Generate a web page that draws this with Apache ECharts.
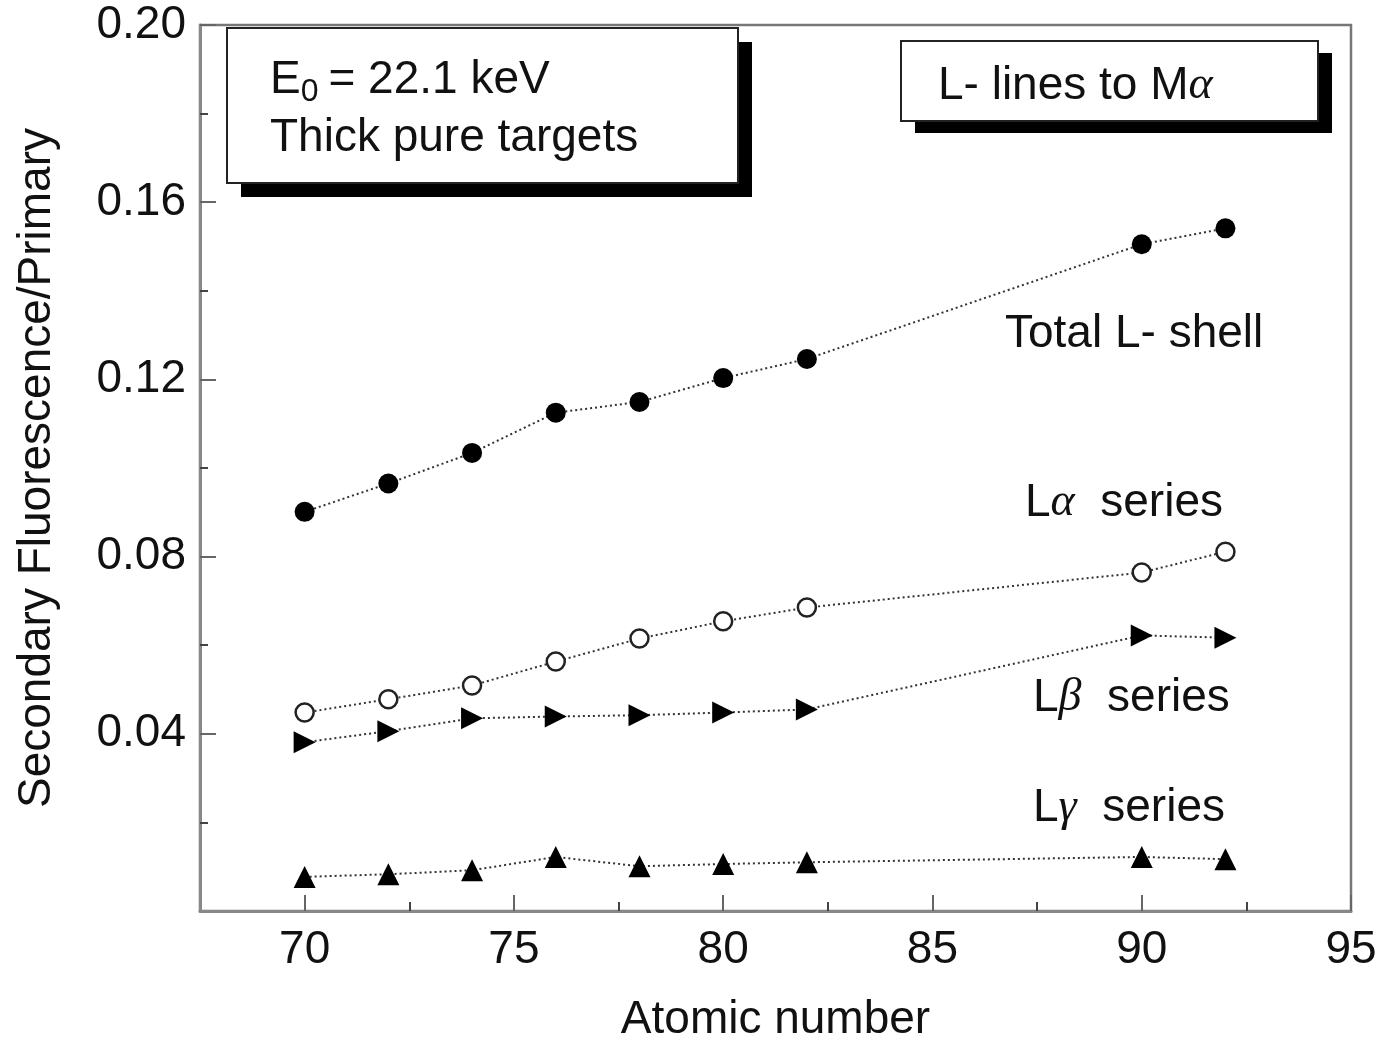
<!DOCTYPE html>
<html>
<head>
<meta charset="utf-8">
<script src="https://cdn.jsdelivr.net/npm/echarts@6/dist/echarts.min.js"></script>
<style>html,body{margin:0;padding:0;background:#fff;}#c{width:1385px;height:1039px;}</style>
</head>
<body>
<div id="c"></div>
<script>
var atomicNumber = [70, 72, 74, 76, 78, 80, 82, 90, 92];
var totalL = [0.0901, 0.0965, 0.1034, 0.1125, 0.1149, 0.1203, 0.1246, 0.1505, 0.1541];
var lAlpha = [0.0448, 0.0478, 0.0509, 0.0563, 0.0615, 0.0654, 0.0685, 0.0764, 0.0811];
var lBeta  = [0.0381, 0.0406, 0.0435, 0.0439, 0.0442, 0.0448, 0.0455, 0.0622, 0.0617];
var lGamma = [0.0077, 0.0083, 0.0092, 0.0122, 0.0101, 0.0106, 0.0110, 0.0122, 0.0117];
var xMajorTicks = [70, 75, 80, 85, 90, 95];
var xMinorTicks = [72.5, 77.5, 82.5, 87.5, 92.5];
var yMajorTicks = [0.04, 0.08, 0.12, 0.16, 0.20];
var yMinorTicks = [0.02, 0.06, 0.10, 0.14, 0.18];

function pairs(xs, ys) { return xs.map(function (x, i) { return [x, ys[i]]; }); }

var FONT = 'Liberation Sans';
var GREEK = 'Liberation Serif';
var FS = 46;
var chart = echarts.init(document.getElementById('c'), null, {renderer: 'canvas'});
var lineStyle = {type: [2, 3], width: 2, color: '#333'};
var greekRich = {a: {fontSize: FS, fill: '#111', fontFamily: FONT}, g: {fontSize: FS, fill: '#111', fontFamily: GREEK, fontStyle: 'italic'}};

chart.setOption({
  animation: false,
  backgroundColor: '#fff',
  textStyle: {fontFamily: FONT},
  grid: {left: 200, top: 25, right: 34, bottom: 128, outerBoundsMode: 'none', containLabel: false,
    show: true, borderColor: '#777', borderWidth: 2.5, backgroundColor: 'transparent'},
  xAxis: [{
    type: 'value', min: 67.5, max: 95,
    name: 'Atomic number', nameLocation: 'middle', nameGap: 86,
    nameTextStyle: {fontSize: FS, color: '#111', fontFamily: FONT},
    axisLine: {show: true, lineStyle: {color: '#888', width: 3}},
    axisTick: {show: true, inside: true, length: 16, lineStyle: {color: '#666', width: 2}, customValues: xMajorTicks},
    axisLabel: {show: true, fontSize: FS, color: '#111', margin: 16, fontFamily: FONT, customValues: xMajorTicks,
      formatter: function (v) { return String(v); }},
    splitLine: {show: false}
  }, {
    type: 'value', min: 67.5, max: 95, position: 'bottom',
    axisLine: {show: false},
    axisTick: {show: true, inside: true, length: 9, lineStyle: {color: '#444', width: 2}, customValues: xMinorTicks},
    axisLabel: {show: false},
    splitLine: {show: false}
  }],
  yAxis: [{
    type: 'value', min: 0, max: 0.20,
    name: 'Secondary Fluorescence/Primary', nameLocation: 'middle', nameGap: 140,
    nameTextStyle: {fontSize: FS, color: '#111', fontFamily: FONT},
    axisLine: {show: true, lineStyle: {color: '#888', width: 3}},
    axisTick: {show: true, inside: true, length: 16, lineStyle: {color: '#666', width: 2}, customValues: yMajorTicks},
    axisLabel: {show: true, fontSize: FS, color: '#111', margin: 14, fontFamily: FONT, customValues: yMajorTicks,
      formatter: function (v) { return v.toFixed(2); }},
    splitLine: {show: false}
  }, {
    type: 'value', min: 0, max: 0.20, position: 'left',
    axisLine: {show: false},
    axisTick: {show: true, inside: true, length: 8, lineStyle: {color: '#444', width: 2}, customValues: yMinorTicks},
    axisLabel: {show: false},
    splitLine: {show: false}
  }],
  series: [{
    name: 'Total L- shell', type: 'line', data: pairs(atomicNumber, totalL),
    symbol: 'circle', symbolSize: 20, itemStyle: {color: '#000'}, lineStyle: lineStyle
  }, {
    name: 'L\u03b1 series', type: 'line', data: pairs(atomicNumber, lAlpha),
    symbol: 'circle', symbolSize: 18, itemStyle: {color: '#fff', borderColor: '#222', borderWidth: 2.5}, lineStyle: lineStyle
  }, {
    name: 'L\u03b2 series', type: 'line', data: pairs(atomicNumber, lBeta),
    symbol: 'triangle', symbolSize: 22, symbolRotate: -90, itemStyle: {color: '#000'}, lineStyle: lineStyle
  }, {
    name: 'L\u03b3 series', type: 'line', data: pairs(atomicNumber, lGamma),
    symbol: 'triangle', symbolSize: 22, itemStyle: {color: '#000'}, lineStyle: lineStyle
  }],
  graphic: [
    {type: 'rect', shape: {x: 241, y: 42, width: 511, height: 155}, style: {fill: '#000'}, z: 10},
    {type: 'rect', shape: {x: 227, y: 28, width: 511, height: 155}, style: {fill: '#fff', stroke: '#222', lineWidth: 2}, z: 11},
    {type: 'text', x: 270, y: 80, z: 12, style: {
      text: '{a|E}{s|0}{a|= 22.1 keV}', verticalAlign: 'middle',
      rich: {a: {fontSize: FS, fill: '#111', fontFamily: FONT}, s: {fontSize: 32, fill: '#111', fontFamily: FONT, verticalAlign: 'bottom', padding: [24, 10, 0, 0]}}}},
    {type: 'text', x: 270, y: 138, z: 12, style: {text: 'Thick pure targets', fontSize: FS, fill: '#111', fontFamily: FONT, verticalAlign: 'middle'}},
    {type: 'rect', shape: {x: 915, y: 53, width: 417, height: 80}, style: {fill: '#000'}, z: 10},
    {type: 'rect', shape: {x: 901, y: 41, width: 417, height: 80}, style: {fill: '#fff', stroke: '#222', lineWidth: 2}, z: 11},
    {type: 'text', x: 938, y: 86, z: 12, style: {text: '{a|L- lines to M}{g|\u03b1}', verticalAlign: 'middle', rich: greekRich}},
    {type: 'text', x: 1005, y: 334, z: 12, style: {text: 'Total L- shell', fontSize: FS, fill: '#111', fontFamily: FONT, verticalAlign: 'middle'}},
    {type: 'text', x: 1025, y: 503, z: 12, style: {text: '{a|L}{g|\u03b1}{a|  series}', verticalAlign: 'middle', rich: greekRich}},
    {type: 'text', x: 1033, y: 698, z: 12, style: {text: '{a|L}{g|\u03b2}{a|  series}', verticalAlign: 'middle', rich: greekRich}},
    {type: 'text', x: 1033, y: 808, z: 12, style: {text: '{a|L}{g|\u03b3}{a|  series}', verticalAlign: 'middle', rich: greekRich}}
  ]
});
</script>
</body>
</html>
